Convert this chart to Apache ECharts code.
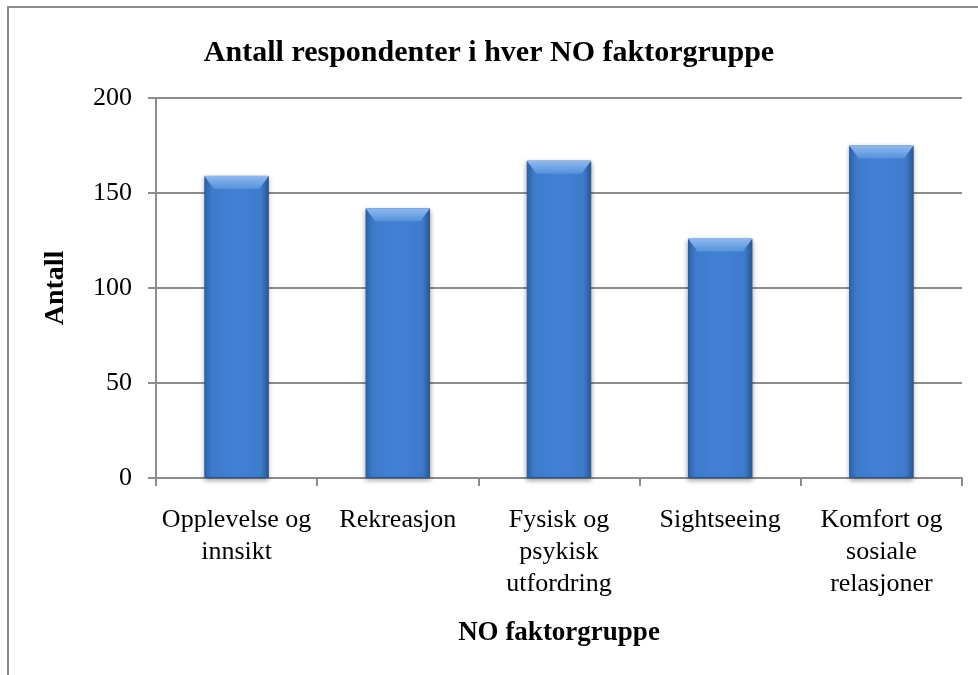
<!DOCTYPE html>
<html>
<head>
<meta charset="utf-8">
<script src="https://cdn.jsdelivr.net/npm/echarts@6/dist/echarts.min.js"></script>
<style>
  html, body { margin: 0; padding: 0; background: #fff; }
  #chart { width: 978px; height: 675px; }
</style>
</head>
<body>
<div id="chart"></div>
<script>
const categories = [
  'Opplevelse og\ninnsikt',
  'Rekreasjon',
  'Fysisk og\npsykisk\nutfordring',
  'Sightseeing',
  'Komfort og\nsosiale\nrelasjoner'
]
const counts = [159, 142, 167, 126, 175]
const yTicks = { min: 0, max: 200, interval: 50 }

const serif = '"Liberation Serif", "DejaVu Serif", serif'

const chart = echarts.init(document.getElementById('chart'), null, { renderer: 'canvas' })

const barColor = new echarts.graphic.LinearGradient(0, 0, 1, 0, [
  { offset: 0, color: '#2f68b4' },
  { offset: 0.12, color: '#3d7bcb' },
  { offset: 0.5, color: '#4282d6' },
  { offset: 0.88, color: '#3d7bcb' },
  { offset: 1, color: '#2a5c9e' }
])

// light bevel on the top edge of each bar
const bevelColor = new echarts.graphic.LinearGradient(0, 0, 0, 1, [
  { offset: 0, color: '#8fbaf0' },
  { offset: 1, color: '#5591dc' }
])

const option = {
  animation: false,
  backgroundColor: '#fff',
  title: {
    text: 'Antall respondenter i hver NO faktorgruppe',
    left: 'center',
    top: 33,
    textStyle: { fontFamily: serif, fontSize: 30, fontWeight: 'bold', color: '#000' }
  },
  graphic: [{
    type: 'rect',
    shape: { x: 8, y: 7, width: 1000, height: 700 },
    style: { fill: 'none', stroke: '#8c8c8c', lineWidth: 2 },
    silent: true
  }],
  grid: { left: 156, right: 16, top: 98, bottom: 197 },
  xAxis: {
    type: 'category',
    data: categories,
    name: 'NO faktorgruppe',
    nameLocation: 'middle',
    nameGap: 142,
    nameTextStyle: { fontFamily: serif, fontSize: 27, fontWeight: 'bold', color: '#000' },
    axisLine: { lineStyle: { color: '#8c8c8c', width: 2 } },
    axisTick: { show: true, length: 8, lineStyle: { color: '#8c8c8c', width: 2 } },
    axisLabel: {
      fontFamily: serif, fontSize: 26, color: '#000',
      lineHeight: 32, margin: 26, interval: 0
    }
  },
  yAxis: {
    type: 'value',
    min: yTicks.min,
    max: yTicks.max,
    interval: yTicks.interval,
    name: 'Antall',
    nameLocation: 'middle',
    nameGap: 86,
    nameTextStyle: { fontFamily: serif, fontSize: 28, fontWeight: 'bold', color: '#000' },
    axisLine: { show: true, lineStyle: { color: '#8c8c8c', width: 2 } },
    axisTick: { show: true, length: 8, lineStyle: { color: '#8c8c8c', width: 2 } },
    splitLine: { lineStyle: { color: '#8c8c8c', width: 2 } },
    axisLabel: { fontFamily: serif, fontSize: 26, color: '#000', margin: 24 }
  },
  series: [{
    type: 'bar',
    data: counts,
    barWidth: '40%',
    itemStyle: {
      color: barColor,
      borderColor: '#2b5894',
      borderWidth: 1,
      shadowColor: 'rgba(0,0,0,0.35)',
      shadowBlur: 5,
      shadowOffsetY: 2
    }
  }, {
    type: 'pictorialBar',
    data: counts,
    barWidth: '40%',
    barGap: '-100%',
    symbol: 'path://M0,0 L20,0 L17,2.6 L3,2.6 Z',
    symbolKeepAspect: false,
    symbolSize: ['100%', 13],
    symbolPosition: 'end',
    symbolOffset: [0, 0],
    silent: true,
    z: 3,
    itemStyle: { color: bevelColor }
  }]
}

chart.setOption(option)
window.addEventListener('resize', () => chart.resize())
</script>
</body>
</html>
